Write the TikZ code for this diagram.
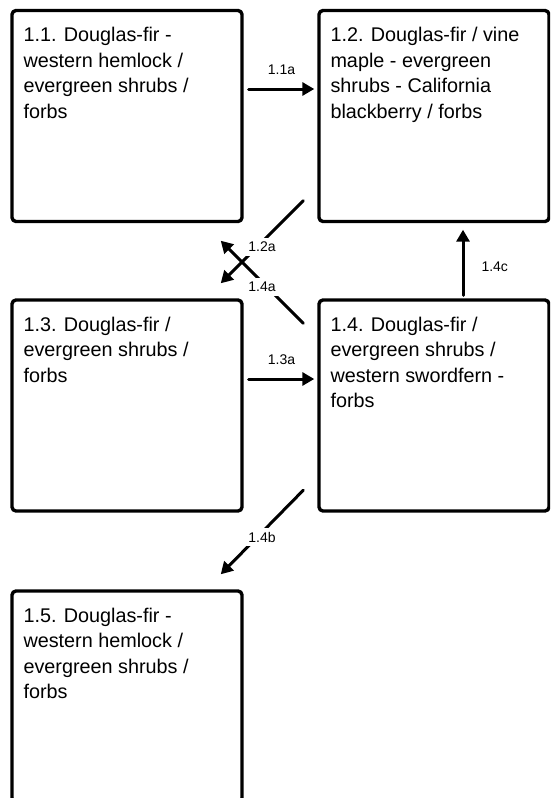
\documentclass[tikz,border=0pt]{standalone}
\usepackage{fontspec}
\setmainfont{Liberation Sans}
\usepackage{tikz}
\usetikzlibrary{calc}
\usetikzlibrary{arrows.meta, positioning}

\tikzset{
  stage/.style={draw, line width=3.4pt, rounded corners=4pt, minimum width=230pt, minimum height=211pt, inner sep=0pt},
  stagetext/.style={anchor=base west, inner sep=0pt, font=\fontsize{19.8}{25.5}\selectfont},
  trans/.style={line width=3pt, -{Triangle[length=12pt, width=13pt]}},
  tlabel/.style={font=\fontsize{14}{15}\selectfont, inner sep=4pt}
}

\begin{document}
\begin{tikzpicture}[x=1pt, y=-1pt, line cap=round, line join=round]
            % page frame (box 1.5 runs off the bottom)
            \clip[use as bounding box] (0,0) rectangle (550,798);

            % stage boxes
            \node[stage] (s11) at (127,116) {};
            \node[stage] (s12) at (434,116) {};
            \node[stage] (s13) at (127,405.5) {};
            \node[stage] (s14) at (434,405.5) {};
            \node[stage] (s15) at (127,696.5) {};

            % box texts
            \node[stagetext] (t11) at ($(s11.north west)+(13,33)$) {\parbox[t]{215pt}{\raggedright 1.1. Douglas-fir -\\western hemlock /\\evergreen shrubs /\\forbs}};
            \node[stagetext] (t12) at ($(s12.north west)+(13,33)$) {\parbox[t]{215pt}{\raggedright 1.2. Douglas-fir / vine\\maple - evergreen\\shrubs - California\\blackberry / forbs}};
            \node[stagetext] (t13) at ($(s13.north west)+(13,33)$) {\parbox[t]{215pt}{\raggedright 1.3. Douglas-fir /\\evergreen shrubs /\\forbs}};
            \node[stagetext] (t14) at ($(s14.north west)+(13,33)$) {\parbox[t]{215pt}{\raggedright 1.4. Douglas-fir /\\evergreen shrubs /\\western swordfern -\\forbs}};
            \node[stagetext] (t15) at ($(s15.north west)+(13,33)$) {\parbox[t]{215pt}{\raggedright 1.5. Douglas-fir -\\western hemlock /\\evergreen shrubs /\\forbs}};

            % horizontal transitions
            \draw[trans] ([shift={(5,-27)}]s11.east) -- ([shift={(-3,-27)}]s12.west)
                node[midway, tlabel, yshift=19pt] {1.1a};
            \draw[trans] ([shift={(5,-26.5)}]s13.east) -- ([shift={(-3,-26.5)}]s14.west)
                node[midway, tlabel, yshift=19pt] {1.3a};

            % vertical transition
            \draw[trans] ([shift={(29,-3)}]s14.north) -- ([shift={(29,6.5)}]s12.south)
                node[midway, tlabel, anchor=west, inner sep=0pt, xshift=17pt, yshift=-4.5pt] {1.4c};

            % diagonal transitions
            \draw[trans] ([shift={(-14,-22.5)}]s12.south west) -- ([shift={(-23,-15)}]s13.north east)
                node[midway, tlabel, fill=white, yshift=-5pt] {1.2a};
            \draw[trans] ([shift={(-14,25)}]s14.north west) -- ([shift={(-23,17.5)}]s11.south east)
                node[midway, tlabel, fill=white, yshift=-5pt] {1.4a};
            \draw[trans] ([shift={(-14,-22.5)}]s14.south west) -- ([shift={(-23,-15)}]s15.north east)
                node[midway, tlabel, fill=white, yshift=-5pt] {1.4b};
        \end{tikzpicture}
\end{document}
